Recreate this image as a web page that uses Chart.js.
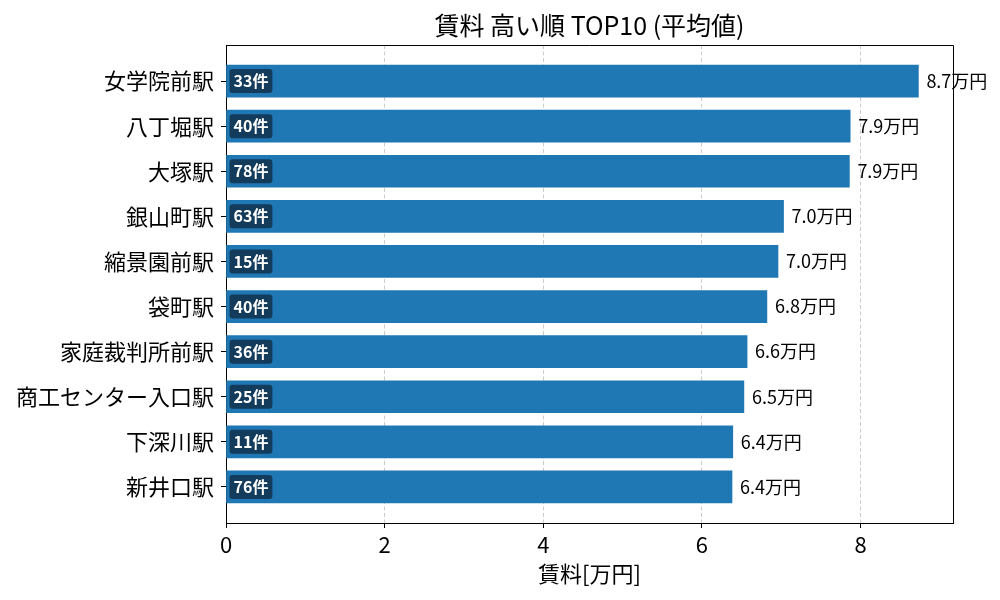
<!DOCTYPE html>
<html>
<head>
<meta charset="utf-8">
<script src="https://cdn.jsdelivr.net/npm/chart.js@4"></script>
<style>
   html, body { margin: 0; padding: 0; background: #fff; }
</style>
</head>
<body>
<canvas id="rent-chart" width="1000" height="600"></canvas>
<script>
const stations = ['女学院前駅', '八丁堀駅', '大塚駅', '銀山町駅', '縮景園前駅', '袋町駅', '家庭裁判所前駅', '商工センター入口駅', '下深川駅', '新井口駅'];
const rents = [8.73, 7.87, 7.86, 7.03, 6.96, 6.82, 6.57, 6.53, 6.39, 6.38];
const counts = [33, 40, 78, 63, 15, 40, 36, 25, 11, 76];
const xTicks = [0, 2, 4, 6, 8];

const FONT = "'Noto Sans CJK JP', 'Noto Sans', sans-serif";

// 値ラベルと件数バッジ、上と右の枠線
const barLabels = {
   id: 'barLabels',
   afterDatasetsDraw(chart) {
      const { ctx, chartArea } = chart;
      const meta = chart.getDatasetMeta(0);
      ctx.save();

      ctx.strokeStyle = '#000';
      ctx.lineWidth = 1;
      ctx.beginPath();
      ctx.moveTo(chartArea.left, chartArea.top + 0.5);
      ctx.lineTo(chartArea.right + 0.5, chartArea.top + 0.5);
      ctx.lineTo(chartArea.right + 0.5, chartArea.bottom);
      ctx.stroke();

      ctx.textAlign = 'left';
      ctx.textBaseline = 'middle';
      meta.data.forEach((bar, i) => {
         ctx.font = `18px ${FONT}`;
         ctx.fillStyle = '#000';
         ctx.fillText(rents[i].toFixed(1) + '万円', bar.x + 8, bar.y);

         const txt = counts[i] + '件';
         ctx.font = `bold 16px ${FONT}`;
         const w = ctx.measureText(txt).width + 8;
         const bx = chartArea.left + 3.5;
         const by = bar.y - 12;
         ctx.fillStyle = '#133b5b';
         ctx.beginPath();
         ctx.roundRect(bx, by, w, 24, 3);
         ctx.fill();
         ctx.fillStyle = '#fff';
         ctx.fillText(txt, bx + 4, bar.y);
      });
      ctx.restore();
   }
};

new Chart(document.getElementById('rent-chart'), {
   type: 'bar',
   data: {
      datasets: [{
         data: rents.map((v, i) => ({ x: v, y: i })),
         backgroundColor: '#1f77b4',
         barThickness: 32,
      }]
   },
   options: {
      indexAxis: 'y',
      responsive: false,
      animation: false,
      devicePixelRatio: 1,
      layout: { padding: { left: 0, right: 47, top: 0, bottom: 0 } },
      plugins: {
         legend: { display: false },
         tooltip: { enabled: false },
         title: {
            display: true,
            fullSize: false,
            text: '賃料 高い順 TOP10 (平均値)',
            color: '#000',
            font: { family: FONT, size: 25, weight: 'normal' },
            padding: { top: 10, bottom: 5 }
         }
      },
      scales: {
         x: {
            type: 'linear',
            position: 'bottom',
            min: 0,
            max: Math.max(...rents) * 1.05,
            afterBuildTicks: axis => { axis.ticks = xTicks.map(v => ({ value: v })); },
            afterFit: axis => { axis.height = 77; },
            ticks: { color: '#000', font: { family: FONT, size: 22 }, padding: 3 },
            grid: { color: '#cccccc', lineWidth: 1, tickColor: '#000', tickLength: 5, tickWidth: 1 },
            border: { display: true, color: '#000', width: 1, dash: [4, 2.5] },
            title: {
               display: true,
               text: '賃料[万円]',
               color: '#000',
               font: { family: FONT, size: 22 },
               padding: { top: 0, bottom: 13 }
            }
         },
         y: {
            type: 'linear',
            reverse: true,
            offset: false,
            bounds: 'data',
            min: -0.8,
            max: 9.8,
            afterBuildTicks: axis => { axis.ticks = stations.map((s, i) => ({ value: i })); },
            afterFit: axis => { axis.width = 226; },
            ticks: {
               color: '#000',
               font: { family: FONT, size: 22 },
               padding: 7,
               callback: v => stations[v]
            },
            grid: { offset: false, drawOnChartArea: false, tickColor: '#000', tickLength: 5 },
            border: { color: '#000', width: 1 }
         }
      }
   },
   plugins: [barLabels]
});
</script>
</body>
</html>
